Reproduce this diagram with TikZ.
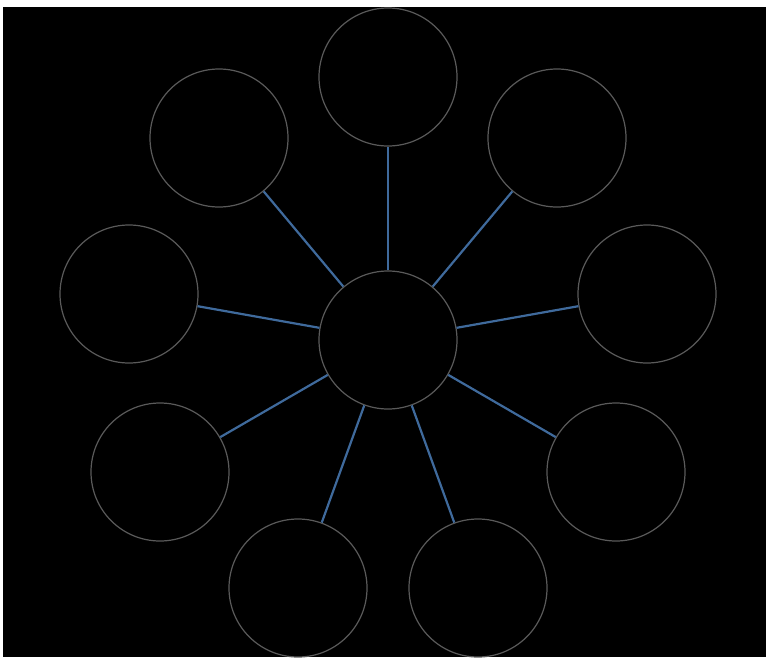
\documentclass[tikz,border=0pt]{standalone}
\definecolor{ringgray}{HTML}{5A5A5A}
\definecolor{spokeblue}{HTML}{3F6A9C}
\tikzset{
  bubble/.style={circle,draw=ringgray,line width=1.2pt,minimum size=138pt,inner sep=0pt},
  spoke/.style={draw=spokeblue,line width=2.2pt}
}
\begin{document}
\begin{tikzpicture}[x=1pt,y=-1pt]
\useasboundingbox (0,0) rectangle (766,659);
\fill[white] (0,0) rectangle (766,659);
\fill[black] (3,7) rectangle (766,657);

\node[bubble] (hub) at (388,340) {};

\node[bubble] (top) at (388,77) {};
\node[bubble] (upleft) at (219,138) {};
\node[bubble] (upright) at (557,138) {};
\node[bubble] (left) at (129,294) {};
\node[bubble] (right) at (647,294) {};
\node[bubble] (lowleft) at (160,472) {};
\node[bubble] (lowright) at (616,472) {};
\node[bubble] (botleft) at (298,588) {};
\node[bubble] (botright) at (478,588) {};

\draw[spoke] (hub) -- (top);
\draw[spoke] (hub) -- (upleft);
\draw[spoke] (hub) -- (upright);
\draw[spoke] (hub) -- (left);
\draw[spoke] (hub) -- (right);
\draw[spoke] (hub) -- (lowleft);
\draw[spoke] (hub) -- (lowright);
\draw[spoke] (hub) -- (botleft);
\draw[spoke] (hub) -- (botright);
\end{tikzpicture}
\end{document}
